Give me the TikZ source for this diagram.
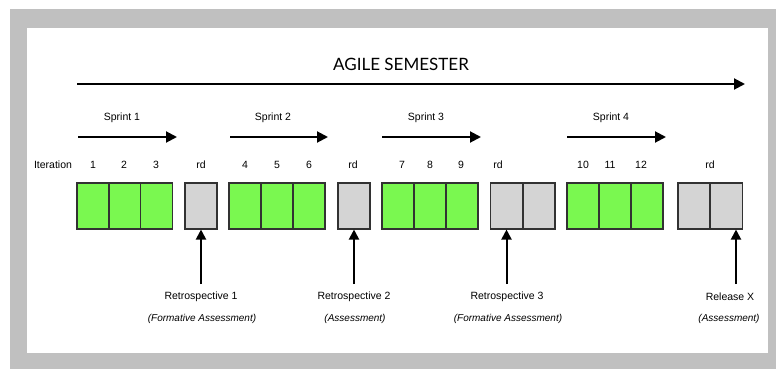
\documentclass[tikz,border=0pt]{standalone}
\usepackage{fontspec}
\setmainfont{Liberation Sans}
\newfontfamily\titlefont{Lato}
\usetikzlibrary{arrows.meta}
\definecolor{bggray}{RGB}{192,192,192}
\definecolor{cellgreen}{RGB}{122,248,80}
\definecolor{cellgray}{RGB}{212,212,212}
\definecolor{celledge}{RGB}{50,50,50}
\tikzset{
  gcell/.style={draw=celledge, line width=1.1pt, fill=cellgreen, minimum width=32pt, minimum height=46pt, inner sep=0pt},
  rcell/.style={draw=celledge, line width=1.1pt, fill=cellgray, minimum width=32pt, minimum height=46pt, inner sep=0pt},
  lbl/.style={font=\fontsize{10.5}{12}\selectfont, inner sep=0pt},
  ilbl/.style={font=\fontsize{10}{12}\selectfont\itshape, inner sep=0pt},
  bigarrow/.style={line width=2pt, -{Triangle[length=11pt,width=11pt]}},
  uparrow/.style={line width=2pt, -{Triangle[length=10pt,width=10pt]}}
}
\begin{document}
\begin{tikzpicture}[x=1pt,y=-1pt]
\useasboundingbox (0,0) rectangle (776,369);
\fill[bggray] (10,9) rectangle (776,369);
\fill[white] (27,28) rectangle (768,353);
% title
\node[inner sep=0pt, font=\titlefont\fontsize{17}{20}\selectfont] (title) at (401,64) {AGILE SEMESTER};
\coordinate (semA) at (77,84);
\coordinate (semB) at (745,84);
\draw[bigarrow] (semA) -- (semB);
% sprints
\node[lbl] (s1) at (122,118) {Sprint 1};
\node[lbl] (s2) at (273,118) {Sprint 2};
\node[lbl] (s3) at (426,118) {Sprint 3};
\node[lbl] (s4) at (611,118) {Sprint 4};
\coordinate (s1a) at (78,137); \coordinate (s1b) at (177,137);
\coordinate (s2a) at (230,137); \coordinate (s2b) at (328,137);
\coordinate (s3a) at (382,137); \coordinate (s3b) at (481,137);
\coordinate (s4a) at (567,137); \coordinate (s4b) at (666,137);
\draw[bigarrow] (s1a) -- (s1b);
\draw[bigarrow] (s2a) -- (s2b);
\draw[bigarrow] (s3a) -- (s3b);
\draw[bigarrow] (s4a) -- (s4b);
% iteration labels
\node[lbl] (it) at (53,165) {Iteration};
\node[lbl] (n1) at (93,165) {1};
\node[lbl] (n2) at (124,165) {2};
\node[lbl] (n3) at (156,165) {3};
\node[lbl] (rd1) at (201,165) {rd};
\node[lbl] (n4) at (245,165) {4};
\node[lbl] (n5) at (277,165) {5};
\node[lbl] (n6) at (309,165) {6};
\node[lbl] (rd2) at (353,165) {rd};
\node[lbl] (n7) at (402,165) {7};
\node[lbl] (n8) at (430,165) {8};
\node[lbl] (n9) at (461,165) {9};
\node[lbl] (rd3) at (498,165) {rd};
\node[lbl] (n10) at (583,165) {10};
\node[lbl] (n11) at (610,165) {11};
\node[lbl] (n12) at (641,165) {12};
\node[lbl] (rd4) at (710,165) {rd};
% cells
\node[gcell] (c1) at (93,206) {};
\node[gcell] (c2) at (125,206) {};
\node[gcell] (c3) at (156.5,206) {};
\node[rcell] (r1) at (201,206) {};
\node[gcell] (c4) at (245,206) {};
\node[gcell] (c5) at (277,206) {};
\node[gcell] (c6) at (309,206) {};
\node[rcell] (r2) at (354,206) {};
\node[gcell] (c7) at (398,206) {};
\node[gcell] (c8) at (430,206) {};
\node[gcell] (c9) at (462,206) {};
\node[rcell] (r3a) at (506.5,206) {};
\node[rcell] (r3b) at (539,206) {};
\node[gcell] (c10) at (583,206) {};
\node[gcell] (c11) at (615,206) {};
\node[gcell] (c12) at (647,206) {};
\node[rcell] (r4a) at (694,206) {};
\node[rcell] (r4b) at (726.5,206) {};
% bottom labels
\node[lbl] (l1) at (201,297) {Retrospective 1};
\node[ilbl] (f1) at (202,319) {(Formative Assessment)};
\node[lbl] (l2) at (354,297) {Retrospective 2};
\node[ilbl] (f2) at (355,319) {(Assessment)};
\node[lbl] (l3) at (507,297) {Retrospective 3};
\node[ilbl] (f3) at (508,319) {(Formative Assessment)};
\node[lbl] (l4) at (730,297) {Release X};
\node[ilbl] (f4) at (729,319) {(Assessment)};
% up arrows
\coordinate (a1) at (201,284);
\coordinate (a2) at (354,284);
\coordinate (a3) at (506.5,284);
\coordinate (a4) at (736,284);
\draw[uparrow] (a1) -- (r1.south);
\draw[uparrow] (a2) -- (r2.south);
\draw[uparrow] (a3) -- (r3a.south);
\draw[uparrow] (a4) -- (a4 |- r4b.south);
\end{tikzpicture}
\end{document}
